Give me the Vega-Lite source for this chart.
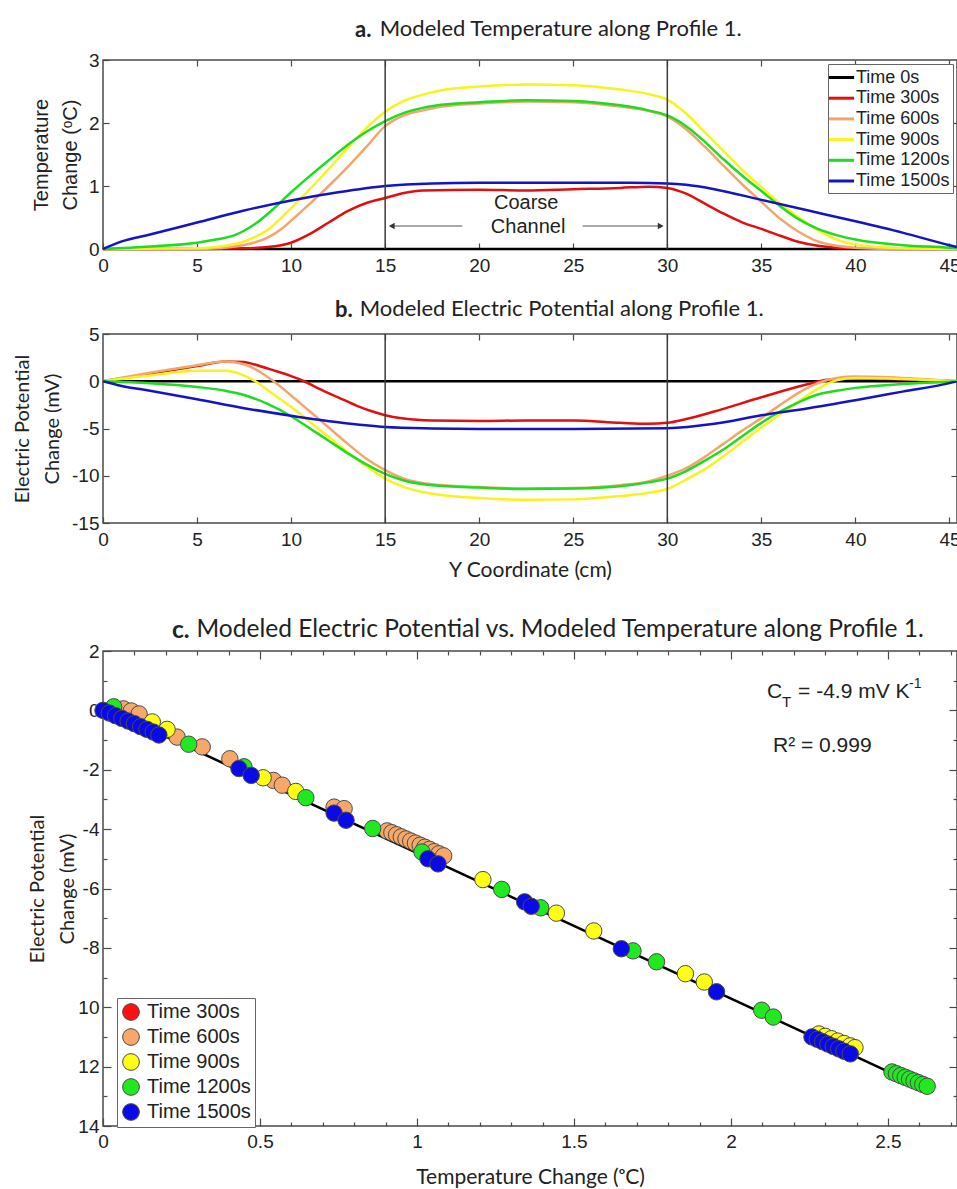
{
  "$schema": "https://vega.github.io/schema/vega-lite/v6.json",
  "padding": {"left": 11, "top": 17, "right": 0, "bottom": 0},
  "background": "white",
  "spacing": 21,
  "resolve": {"scale": {"color": "independent"}, "legend": {"color": "independent"}},
  "config": {
    "view": {"stroke": "#4a4a4a", "strokeWidth": 1.5},
    "axis": {
      "domain": false, "grid": false,
      "tickColor": "#4a4a4a", "tickWidth": 1.2,
      "labelFont": "Liberation Sans", "labelColor": "#222", "labelFlush": false, "labelOverlap": false,
      "titleColor": "#222", "titleFontWeight": "normal"
    },
    "legend": {
      "orient": "none", "title": null, "strokeColor": "#666", "fillColor": "white",
      "labelFont": "Liberation Sans", "labelColor": "#222"
    },
    "title": {
      "anchor": "start", "frame": "group", "font": "Lato", "fontSize": 22, "fontWeight": "bold",
      "color": "#222", "subtitleFont": "Lato", "subtitleFontSize": 22, "subtitleFontWeight": "normal",
      "subtitleColor": "#222", "subtitlePadding": -23
    }
  },
  "datasets": {
    "temperature": [
      {"series": "Time 0s", "y_cm": 0, "dT": 0}, {"series": "Time 0s", "y_cm": 45.4, "dT": 0},
      {"series": "Time 300s", "y_cm": 0, "dT": 0}, {"series": "Time 300s", "y_cm": 5, "dT": 0}, {"series": "Time 300s", "y_cm": 7.5, "dT": 0.01}, {"series": "Time 300s", "y_cm": 8.75, "dT": 0.03}, {"series": "Time 300s", "y_cm": 10, "dT": 0.1}, {"series": "Time 300s", "y_cm": 11, "dT": 0.24}, {"series": "Time 300s", "y_cm": 12, "dT": 0.42}, {"series": "Time 300s", "y_cm": 13, "dT": 0.6}, {"series": "Time 300s", "y_cm": 14, "dT": 0.73}, {"series": "Time 300s", "y_cm": 15, "dT": 0.81}, {"series": "Time 300s", "y_cm": 16, "dT": 0.89}, {"series": "Time 300s", "y_cm": 17, "dT": 0.93}, {"series": "Time 300s", "y_cm": 20, "dT": 0.94}, {"series": "Time 300s", "y_cm": 22.5, "dT": 0.93}, {"series": "Time 300s", "y_cm": 25, "dT": 0.95}, {"series": "Time 300s", "y_cm": 27.5, "dT": 0.97}, {"series": "Time 300s", "y_cm": 29, "dT": 0.99}, {"series": "Time 300s", "y_cm": 30, "dT": 0.97}, {"series": "Time 300s", "y_cm": 31, "dT": 0.88}, {"series": "Time 300s", "y_cm": 32, "dT": 0.72}, {"series": "Time 300s", "y_cm": 33, "dT": 0.56}, {"series": "Time 300s", "y_cm": 34, "dT": 0.42}, {"series": "Time 300s", "y_cm": 35, "dT": 0.32}, {"series": "Time 300s", "y_cm": 36, "dT": 0.21}, {"series": "Time 300s", "y_cm": 37, "dT": 0.11}, {"series": "Time 300s", "y_cm": 38, "dT": 0.05}, {"series": "Time 300s", "y_cm": 39, "dT": 0.02}, {"series": "Time 300s", "y_cm": 40, "dT": 0.01}, {"series": "Time 300s", "y_cm": 42.5, "dT": 0}, {"series": "Time 300s", "y_cm": 45.4, "dT": 0},
      {"series": "Time 600s", "y_cm": 0, "dT": 0}, {"series": "Time 600s", "y_cm": 5, "dT": 0}, {"series": "Time 600s", "y_cm": 6, "dT": 0.01}, {"series": "Time 600s", "y_cm": 7, "dT": 0.04}, {"series": "Time 600s", "y_cm": 8, "dT": 0.1}, {"series": "Time 600s", "y_cm": 8.75, "dT": 0.18}, {"series": "Time 600s", "y_cm": 9.5, "dT": 0.32}, {"series": "Time 600s", "y_cm": 10, "dT": 0.45}, {"series": "Time 600s", "y_cm": 11, "dT": 0.72}, {"series": "Time 600s", "y_cm": 12, "dT": 1.0}, {"series": "Time 600s", "y_cm": 13, "dT": 1.3}, {"series": "Time 600s", "y_cm": 14, "dT": 1.62}, {"series": "Time 600s", "y_cm": 15, "dT": 1.95}, {"series": "Time 600s", "y_cm": 15.5, "dT": 2.05}, {"series": "Time 600s", "y_cm": 16, "dT": 2.12}, {"series": "Time 600s", "y_cm": 17, "dT": 2.2}, {"series": "Time 600s", "y_cm": 18, "dT": 2.26}, {"series": "Time 600s", "y_cm": 20, "dT": 2.31}, {"series": "Time 600s", "y_cm": 22.5, "dT": 2.34}, {"series": "Time 600s", "y_cm": 25, "dT": 2.33}, {"series": "Time 600s", "y_cm": 27.5, "dT": 2.26}, {"series": "Time 600s", "y_cm": 29, "dT": 2.19}, {"series": "Time 600s", "y_cm": 30, "dT": 2.1}, {"series": "Time 600s", "y_cm": 31, "dT": 1.9}, {"series": "Time 600s", "y_cm": 32, "dT": 1.62}, {"series": "Time 600s", "y_cm": 33, "dT": 1.32}, {"series": "Time 600s", "y_cm": 34, "dT": 1.02}, {"series": "Time 600s", "y_cm": 35, "dT": 0.75}, {"series": "Time 600s", "y_cm": 36, "dT": 0.48}, {"series": "Time 600s", "y_cm": 37, "dT": 0.27}, {"series": "Time 600s", "y_cm": 38, "dT": 0.12}, {"series": "Time 600s", "y_cm": 39, "dT": 0.05}, {"series": "Time 600s", "y_cm": 40, "dT": 0.02}, {"series": "Time 600s", "y_cm": 42.5, "dT": 0}, {"series": "Time 600s", "y_cm": 45.4, "dT": 0},
      {"series": "Time 900s", "y_cm": 0, "dT": 0}, {"series": "Time 900s", "y_cm": 5, "dT": 0.01}, {"series": "Time 900s", "y_cm": 6, "dT": 0.03}, {"series": "Time 900s", "y_cm": 7, "dT": 0.08}, {"series": "Time 900s", "y_cm": 7.5, "dT": 0.12}, {"series": "Time 900s", "y_cm": 8, "dT": 0.18}, {"series": "Time 900s", "y_cm": 8.75, "dT": 0.3}, {"series": "Time 900s", "y_cm": 9.5, "dT": 0.5}, {"series": "Time 900s", "y_cm": 10, "dT": 0.65}, {"series": "Time 900s", "y_cm": 11, "dT": 0.95}, {"series": "Time 900s", "y_cm": 12, "dT": 1.27}, {"series": "Time 900s", "y_cm": 13, "dT": 1.6}, {"series": "Time 900s", "y_cm": 14, "dT": 1.92}, {"series": "Time 900s", "y_cm": 15, "dT": 2.18}, {"series": "Time 900s", "y_cm": 16, "dT": 2.35}, {"series": "Time 900s", "y_cm": 17, "dT": 2.45}, {"series": "Time 900s", "y_cm": 18, "dT": 2.52}, {"series": "Time 900s", "y_cm": 20, "dT": 2.58}, {"series": "Time 900s", "y_cm": 22.5, "dT": 2.61}, {"series": "Time 900s", "y_cm": 25, "dT": 2.6}, {"series": "Time 900s", "y_cm": 27.5, "dT": 2.53}, {"series": "Time 900s", "y_cm": 29, "dT": 2.46}, {"series": "Time 900s", "y_cm": 30, "dT": 2.37}, {"series": "Time 900s", "y_cm": 31, "dT": 2.15}, {"series": "Time 900s", "y_cm": 32, "dT": 1.85}, {"series": "Time 900s", "y_cm": 33, "dT": 1.55}, {"series": "Time 900s", "y_cm": 34, "dT": 1.25}, {"series": "Time 900s", "y_cm": 35, "dT": 0.98}, {"series": "Time 900s", "y_cm": 36, "dT": 0.72}, {"series": "Time 900s", "y_cm": 37, "dT": 0.5}, {"series": "Time 900s", "y_cm": 38, "dT": 0.3}, {"series": "Time 900s", "y_cm": 39, "dT": 0.15}, {"series": "Time 900s", "y_cm": 40, "dT": 0.07}, {"series": "Time 900s", "y_cm": 42.5, "dT": 0.01}, {"series": "Time 900s", "y_cm": 45.4, "dT": 0},
      {"series": "Time 1200s", "y_cm": 0, "dT": 0}, {"series": "Time 1200s", "y_cm": 2.5, "dT": 0.04}, {"series": "Time 1200s", "y_cm": 5, "dT": 0.1}, {"series": "Time 1200s", "y_cm": 6, "dT": 0.15}, {"series": "Time 1200s", "y_cm": 7, "dT": 0.22}, {"series": "Time 1200s", "y_cm": 7.5, "dT": 0.29}, {"series": "Time 1200s", "y_cm": 8, "dT": 0.38}, {"series": "Time 1200s", "y_cm": 9, "dT": 0.62}, {"series": "Time 1200s", "y_cm": 10, "dT": 0.9}, {"series": "Time 1200s", "y_cm": 11, "dT": 1.16}, {"series": "Time 1200s", "y_cm": 12, "dT": 1.41}, {"series": "Time 1200s", "y_cm": 13, "dT": 1.65}, {"series": "Time 1200s", "y_cm": 14, "dT": 1.86}, {"series": "Time 1200s", "y_cm": 15, "dT": 2.03}, {"series": "Time 1200s", "y_cm": 16, "dT": 2.16}, {"series": "Time 1200s", "y_cm": 17, "dT": 2.24}, {"series": "Time 1200s", "y_cm": 18, "dT": 2.29}, {"series": "Time 1200s", "y_cm": 20, "dT": 2.33}, {"series": "Time 1200s", "y_cm": 22.5, "dT": 2.36}, {"series": "Time 1200s", "y_cm": 25, "dT": 2.35}, {"series": "Time 1200s", "y_cm": 27.5, "dT": 2.28}, {"series": "Time 1200s", "y_cm": 29, "dT": 2.2}, {"series": "Time 1200s", "y_cm": 30, "dT": 2.12}, {"series": "Time 1200s", "y_cm": 31, "dT": 1.95}, {"series": "Time 1200s", "y_cm": 32, "dT": 1.7}, {"series": "Time 1200s", "y_cm": 33, "dT": 1.42}, {"series": "Time 1200s", "y_cm": 34, "dT": 1.16}, {"series": "Time 1200s", "y_cm": 35, "dT": 0.92}, {"series": "Time 1200s", "y_cm": 36, "dT": 0.68}, {"series": "Time 1200s", "y_cm": 37, "dT": 0.47}, {"series": "Time 1200s", "y_cm": 38, "dT": 0.32}, {"series": "Time 1200s", "y_cm": 39, "dT": 0.22}, {"series": "Time 1200s", "y_cm": 40, "dT": 0.15}, {"series": "Time 1200s", "y_cm": 42.5, "dT": 0.06}, {"series": "Time 1200s", "y_cm": 45, "dT": 0.02}, {"series": "Time 1200s", "y_cm": 45.4, "dT": 0.01},
      {"series": "Time 1500s", "y_cm": 0, "dT": 0}, {"series": "Time 1500s", "y_cm": 1, "dT": 0.12}, {"series": "Time 1500s", "y_cm": 2.5, "dT": 0.23}, {"series": "Time 1500s", "y_cm": 5, "dT": 0.42}, {"series": "Time 1500s", "y_cm": 7.5, "dT": 0.61}, {"series": "Time 1500s", "y_cm": 10, "dT": 0.77}, {"series": "Time 1500s", "y_cm": 12.5, "dT": 0.9}, {"series": "Time 1500s", "y_cm": 15, "dT": 1.0}, {"series": "Time 1500s", "y_cm": 17.5, "dT": 1.04}, {"series": "Time 1500s", "y_cm": 20, "dT": 1.05}, {"series": "Time 1500s", "y_cm": 25, "dT": 1.05}, {"series": "Time 1500s", "y_cm": 28, "dT": 1.05}, {"series": "Time 1500s", "y_cm": 30, "dT": 1.04}, {"series": "Time 1500s", "y_cm": 31, "dT": 1.02}, {"series": "Time 1500s", "y_cm": 32.5, "dT": 0.95}, {"series": "Time 1500s", "y_cm": 35, "dT": 0.78}, {"series": "Time 1500s", "y_cm": 37.5, "dT": 0.61}, {"series": "Time 1500s", "y_cm": 40, "dT": 0.44}, {"series": "Time 1500s", "y_cm": 42.5, "dT": 0.26}, {"series": "Time 1500s", "y_cm": 45, "dT": 0.06}, {"series": "Time 1500s", "y_cm": 45.4, "dT": 0.03}
    ],
    "potential": [
      {"series": "Time 0s", "y_cm": 0, "dV": 0}, {"series": "Time 0s", "y_cm": 45.4, "dV": 0},
      {"series": "Time 300s", "y_cm": 0, "dV": 0}, {"series": "Time 300s", "y_cm": 2.5, "dV": 0.8}, {"series": "Time 300s", "y_cm": 5, "dV": 1.6}, {"series": "Time 300s", "y_cm": 6.5, "dV": 2.1}, {"series": "Time 300s", "y_cm": 7.5, "dV": 2.05}, {"series": "Time 300s", "y_cm": 8, "dV": 1.8}, {"series": "Time 300s", "y_cm": 9, "dV": 1.2}, {"series": "Time 300s", "y_cm": 10, "dV": 0.55}, {"series": "Time 300s", "y_cm": 10.7, "dV": 0}, {"series": "Time 300s", "y_cm": 11.5, "dV": -0.8}, {"series": "Time 300s", "y_cm": 12.5, "dV": -1.7}, {"series": "Time 300s", "y_cm": 13.5, "dV": -2.6}, {"series": "Time 300s", "y_cm": 14.5, "dV": -3.3}, {"series": "Time 300s", "y_cm": 15, "dV": -3.6}, {"series": "Time 300s", "y_cm": 16, "dV": -3.95}, {"series": "Time 300s", "y_cm": 17.5, "dV": -4.15}, {"series": "Time 300s", "y_cm": 20, "dV": -4.2}, {"series": "Time 300s", "y_cm": 22.5, "dV": -4.15}, {"series": "Time 300s", "y_cm": 25, "dV": -4.15}, {"series": "Time 300s", "y_cm": 27.5, "dV": -4.4}, {"series": "Time 300s", "y_cm": 29, "dV": -4.5}, {"series": "Time 300s", "y_cm": 30, "dV": -4.4}, {"series": "Time 300s", "y_cm": 31, "dV": -4.0}, {"series": "Time 300s", "y_cm": 32.5, "dV": -3.2}, {"series": "Time 300s", "y_cm": 35, "dV": -1.7}, {"series": "Time 300s", "y_cm": 37.5, "dV": -0.3}, {"series": "Time 300s", "y_cm": 38.5, "dV": 0.15}, {"series": "Time 300s", "y_cm": 40, "dV": 0.3}, {"series": "Time 300s", "y_cm": 42.5, "dV": 0.2}, {"series": "Time 300s", "y_cm": 45, "dV": 0.05}, {"series": "Time 300s", "y_cm": 45.4, "dV": 0},
      {"series": "Time 600s", "y_cm": 0, "dV": 0}, {"series": "Time 600s", "y_cm": 2.5, "dV": 0.9}, {"series": "Time 600s", "y_cm": 5, "dV": 1.7}, {"series": "Time 600s", "y_cm": 6.5, "dV": 2.1}, {"series": "Time 600s", "y_cm": 7.5, "dV": 1.8}, {"series": "Time 600s", "y_cm": 8.5, "dV": 0.8}, {"series": "Time 600s", "y_cm": 9, "dV": 0.1}, {"series": "Time 600s", "y_cm": 10, "dV": -1.5}, {"series": "Time 600s", "y_cm": 11, "dV": -3.2}, {"series": "Time 600s", "y_cm": 12, "dV": -4.9}, {"series": "Time 600s", "y_cm": 13, "dV": -6.6}, {"series": "Time 600s", "y_cm": 14, "dV": -8.2}, {"series": "Time 600s", "y_cm": 15, "dV": -9.4}, {"series": "Time 600s", "y_cm": 16, "dV": -10.3}, {"series": "Time 600s", "y_cm": 17.5, "dV": -10.9}, {"series": "Time 600s", "y_cm": 20, "dV": -11.2}, {"series": "Time 600s", "y_cm": 22.5, "dV": -11.35}, {"series": "Time 600s", "y_cm": 25, "dV": -11.3}, {"series": "Time 600s", "y_cm": 27.5, "dV": -11.0}, {"series": "Time 600s", "y_cm": 29, "dV": -10.6}, {"series": "Time 600s", "y_cm": 30, "dV": -10.0}, {"series": "Time 600s", "y_cm": 31, "dV": -9.2}, {"series": "Time 600s", "y_cm": 32, "dV": -8.0}, {"series": "Time 600s", "y_cm": 33, "dV": -6.6}, {"series": "Time 600s", "y_cm": 34, "dV": -5.2}, {"series": "Time 600s", "y_cm": 35, "dV": -3.9}, {"series": "Time 600s", "y_cm": 36, "dV": -2.5}, {"series": "Time 600s", "y_cm": 37, "dV": -1.2}, {"series": "Time 600s", "y_cm": 38, "dV": -0.2}, {"series": "Time 600s", "y_cm": 39, "dV": 0.35}, {"series": "Time 600s", "y_cm": 40, "dV": 0.5}, {"series": "Time 600s", "y_cm": 42.5, "dV": 0.35}, {"series": "Time 600s", "y_cm": 45, "dV": 0.05}, {"series": "Time 600s", "y_cm": 45.4, "dV": 0},
      {"series": "Time 900s", "y_cm": 0, "dV": 0}, {"series": "Time 900s", "y_cm": 2.5, "dV": 0.6}, {"series": "Time 900s", "y_cm": 5, "dV": 1.1}, {"series": "Time 900s", "y_cm": 6.5, "dV": 1.1}, {"series": "Time 900s", "y_cm": 7.5, "dV": 0.6}, {"series": "Time 900s", "y_cm": 8.1, "dV": 0}, {"series": "Time 900s", "y_cm": 9, "dV": -1.3}, {"series": "Time 900s", "y_cm": 10, "dV": -2.7}, {"series": "Time 900s", "y_cm": 11, "dV": -4.3}, {"series": "Time 900s", "y_cm": 12, "dV": -5.9}, {"series": "Time 900s", "y_cm": 13, "dV": -7.5}, {"series": "Time 900s", "y_cm": 14, "dV": -9.0}, {"series": "Time 900s", "y_cm": 15, "dV": -10.3}, {"series": "Time 900s", "y_cm": 16, "dV": -11.2}, {"series": "Time 900s", "y_cm": 17.5, "dV": -11.9}, {"series": "Time 900s", "y_cm": 20, "dV": -12.35}, {"series": "Time 900s", "y_cm": 22.5, "dV": -12.55}, {"series": "Time 900s", "y_cm": 25, "dV": -12.5}, {"series": "Time 900s", "y_cm": 27.5, "dV": -12.15}, {"series": "Time 900s", "y_cm": 29, "dV": -11.8}, {"series": "Time 900s", "y_cm": 30, "dV": -11.4}, {"series": "Time 900s", "y_cm": 31, "dV": -10.4}, {"series": "Time 900s", "y_cm": 32, "dV": -9.3}, {"series": "Time 900s", "y_cm": 33, "dV": -7.9}, {"series": "Time 900s", "y_cm": 34, "dV": -6.4}, {"series": "Time 900s", "y_cm": 35, "dV": -4.9}, {"series": "Time 900s", "y_cm": 36, "dV": -3.5}, {"series": "Time 900s", "y_cm": 37, "dV": -2.1}, {"series": "Time 900s", "y_cm": 38, "dV": -0.8}, {"series": "Time 900s", "y_cm": 39, "dV": 0.1}, {"series": "Time 900s", "y_cm": 40, "dV": 0.35}, {"series": "Time 900s", "y_cm": 42.5, "dV": 0.25}, {"series": "Time 900s", "y_cm": 45, "dV": 0.05}, {"series": "Time 900s", "y_cm": 45.4, "dV": 0},
      {"series": "Time 1200s", "y_cm": 0, "dV": 0}, {"series": "Time 1200s", "y_cm": 2.5, "dV": -0.2}, {"series": "Time 1200s", "y_cm": 5, "dV": -0.6}, {"series": "Time 1200s", "y_cm": 6.5, "dV": -1.0}, {"series": "Time 1200s", "y_cm": 7.5, "dV": -1.45}, {"series": "Time 1200s", "y_cm": 8.75, "dV": -2.4}, {"series": "Time 1200s", "y_cm": 10, "dV": -3.7}, {"series": "Time 1200s", "y_cm": 11, "dV": -5.0}, {"series": "Time 1200s", "y_cm": 12, "dV": -6.3}, {"series": "Time 1200s", "y_cm": 13, "dV": -7.6}, {"series": "Time 1200s", "y_cm": 14, "dV": -8.8}, {"series": "Time 1200s", "y_cm": 15, "dV": -9.8}, {"series": "Time 1200s", "y_cm": 16, "dV": -10.5}, {"series": "Time 1200s", "y_cm": 17.5, "dV": -11.0}, {"series": "Time 1200s", "y_cm": 20, "dV": -11.25}, {"series": "Time 1200s", "y_cm": 22.5, "dV": -11.4}, {"series": "Time 1200s", "y_cm": 25, "dV": -11.35}, {"series": "Time 1200s", "y_cm": 27.5, "dV": -11.1}, {"series": "Time 1200s", "y_cm": 29, "dV": -10.7}, {"series": "Time 1200s", "y_cm": 30, "dV": -10.3}, {"series": "Time 1200s", "y_cm": 31, "dV": -9.5}, {"series": "Time 1200s", "y_cm": 32, "dV": -8.4}, {"series": "Time 1200s", "y_cm": 33, "dV": -7.2}, {"series": "Time 1200s", "y_cm": 34, "dV": -5.8}, {"series": "Time 1200s", "y_cm": 35, "dV": -4.4}, {"series": "Time 1200s", "y_cm": 36, "dV": -3.2}, {"series": "Time 1200s", "y_cm": 37, "dV": -2.2}, {"series": "Time 1200s", "y_cm": 38, "dV": -1.4}, {"series": "Time 1200s", "y_cm": 39, "dV": -1.0}, {"series": "Time 1200s", "y_cm": 40, "dV": -0.7}, {"series": "Time 1200s", "y_cm": 42.5, "dV": -0.3}, {"series": "Time 1200s", "y_cm": 45, "dV": -0.05}, {"series": "Time 1200s", "y_cm": 45.4, "dV": 0},
      {"series": "Time 1500s", "y_cm": 0, "dV": 0}, {"series": "Time 1500s", "y_cm": 1, "dV": -0.5}, {"series": "Time 1500s", "y_cm": 2.5, "dV": -1.0}, {"series": "Time 1500s", "y_cm": 5, "dV": -1.9}, {"series": "Time 1500s", "y_cm": 7.5, "dV": -2.85}, {"series": "Time 1500s", "y_cm": 10, "dV": -3.65}, {"series": "Time 1500s", "y_cm": 12.5, "dV": -4.35}, {"series": "Time 1500s", "y_cm": 15, "dV": -4.85}, {"series": "Time 1500s", "y_cm": 17.5, "dV": -5.0}, {"series": "Time 1500s", "y_cm": 20, "dV": -5.05}, {"series": "Time 1500s", "y_cm": 25, "dV": -5.05}, {"series": "Time 1500s", "y_cm": 30, "dV": -4.97}, {"series": "Time 1500s", "y_cm": 32.5, "dV": -4.5}, {"series": "Time 1500s", "y_cm": 35, "dV": -3.6}, {"series": "Time 1500s", "y_cm": 37.5, "dV": -2.85}, {"series": "Time 1500s", "y_cm": 40, "dV": -2.0}, {"series": "Time 1500s", "y_cm": 42.5, "dV": -1.1}, {"series": "Time 1500s", "y_cm": 45, "dV": -0.2}, {"series": "Time 1500s", "y_cm": 45.4, "dV": 0}
    ],
    "channel": [{"y_cm": 15}, {"y_cm": 30}],
    "fit": [{"dT": 0, "dV": 0.1}, {"dT": 2.64, "dV": -12.85}],
    "scatter": [
      {"series": "Time 600s", "dT": 0.065, "dV": 0.05}, {"series": "Time 600s", "dT": 0.09, "dV": -0.02}, {"series": "Time 600s", "dT": 0.115, "dV": -0.12}, {"series": "Time 600s", "dT": 0.236, "dV": -0.9}, {"series": "Time 600s", "dT": 0.316, "dV": -1.23}, {"series": "Time 600s", "dT": 0.404, "dV": -1.63}, {"series": "Time 600s", "dT": 0.543, "dV": -2.36}, {"series": "Time 600s", "dT": 0.571, "dV": -2.52}, {"series": "Time 600s", "dT": 0.736, "dV": -3.26}, {"series": "Time 600s", "dT": 0.768, "dV": -3.31},
      {"series": "Time 600s", "dT": 0.905, "dV": -4.06}, {"series": "Time 600s", "dT": 0.92, "dV": -4.12}, {"series": "Time 600s", "dT": 0.935, "dV": -4.19}, {"series": "Time 600s", "dT": 0.95, "dV": -4.26}, {"series": "Time 600s", "dT": 0.965, "dV": -4.33}, {"series": "Time 600s", "dT": 0.98, "dV": -4.4}, {"series": "Time 600s", "dT": 0.995, "dV": -4.47}, {"series": "Time 600s", "dT": 1.01, "dV": -4.54}, {"series": "Time 600s", "dT": 1.025, "dV": -4.61}, {"series": "Time 600s", "dT": 1.04, "dV": -4.68}, {"series": "Time 600s", "dT": 1.055, "dV": -4.76}, {"series": "Time 600s", "dT": 1.07, "dV": -4.83}, {"series": "Time 600s", "dT": 1.085, "dV": -4.9},
      {"series": "Time 900s", "dT": 0.157, "dV": -0.39}, {"series": "Time 900s", "dT": 0.204, "dV": -0.64}, {"series": "Time 900s", "dT": 0.51, "dV": -2.27}, {"series": "Time 900s", "dT": 0.614, "dV": -2.73}, {"series": "Time 900s", "dT": 1.21, "dV": -5.7}, {"series": "Time 900s", "dT": 1.444, "dV": -6.83}, {"series": "Time 900s", "dT": 1.563, "dV": -7.43}, {"series": "Time 900s", "dT": 1.855, "dV": -8.87}, {"series": "Time 900s", "dT": 1.915, "dV": -9.15},
      {"series": "Time 900s", "dT": 2.28, "dV": -10.9}, {"series": "Time 900s", "dT": 2.3, "dV": -10.98}, {"series": "Time 900s", "dT": 2.32, "dV": -11.06}, {"series": "Time 900s", "dT": 2.34, "dV": -11.14}, {"series": "Time 900s", "dT": 2.36, "dV": -11.22}, {"series": "Time 900s", "dT": 2.38, "dV": -11.3}, {"series": "Time 900s", "dT": 2.395, "dV": -11.36},
      {"series": "Time 1200s", "dT": 0.034, "dV": 0.12}, {"series": "Time 1200s", "dT": 0.273, "dV": -1.14}, {"series": "Time 1200s", "dT": 0.449, "dV": -1.9}, {"series": "Time 1200s", "dT": 0.646, "dV": -2.94}, {"series": "Time 1200s", "dT": 0.859, "dV": -3.98}, {"series": "Time 1200s", "dT": 1.016, "dV": -4.77}, {"series": "Time 1200s", "dT": 1.27, "dV": -6.03}, {"series": "Time 1200s", "dT": 1.394, "dV": -6.65}, {"series": "Time 1200s", "dT": 1.688, "dV": -8.1}, {"series": "Time 1200s", "dT": 1.763, "dV": -8.47}, {"series": "Time 1200s", "dT": 2.098, "dV": -10.1}, {"series": "Time 1200s", "dT": 2.135, "dV": -10.33},
      {"series": "Time 1200s", "dT": 2.513, "dV": -12.18}, {"series": "Time 1200s", "dT": 2.527, "dV": -12.24}, {"series": "Time 1200s", "dT": 2.541, "dV": -12.3}, {"series": "Time 1200s", "dT": 2.555, "dV": -12.36}, {"series": "Time 1200s", "dT": 2.569, "dV": -12.42}, {"series": "Time 1200s", "dT": 2.583, "dV": -12.48}, {"series": "Time 1200s", "dT": 2.597, "dV": -12.54}, {"series": "Time 1200s", "dT": 2.611, "dV": -12.6}, {"series": "Time 1200s", "dT": 2.625, "dV": -12.66},
      {"series": "Time 1500s", "dT": 0.0, "dV": 0.0}, {"series": "Time 1500s", "dT": 0.02, "dV": -0.09}, {"series": "Time 1500s", "dT": 0.04, "dV": -0.18}, {"series": "Time 1500s", "dT": 0.06, "dV": -0.27}, {"series": "Time 1500s", "dT": 0.08, "dV": -0.36}, {"series": "Time 1500s", "dT": 0.1, "dV": -0.45}, {"series": "Time 1500s", "dT": 0.12, "dV": -0.55}, {"series": "Time 1500s", "dT": 0.14, "dV": -0.64}, {"series": "Time 1500s", "dT": 0.16, "dV": -0.73}, {"series": "Time 1500s", "dT": 0.178, "dV": -0.83},
      {"series": "Time 1500s", "dT": 0.433, "dV": -1.96}, {"series": "Time 1500s", "dT": 0.472, "dV": -2.19}, {"series": "Time 1500s", "dT": 0.736, "dV": -3.46}, {"series": "Time 1500s", "dT": 0.774, "dV": -3.7}, {"series": "Time 1500s", "dT": 1.035, "dV": -5.0}, {"series": "Time 1500s", "dT": 1.067, "dV": -5.17}, {"series": "Time 1500s", "dT": 1.343, "dV": -6.45}, {"series": "Time 1500s", "dT": 1.364, "dV": -6.6}, {"series": "Time 1500s", "dT": 1.651, "dV": -8.03}, {"series": "Time 1500s", "dT": 1.954, "dV": -9.48},
      {"series": "Time 1500s", "dT": 2.258, "dV": -11.0}, {"series": "Time 1500s", "dT": 2.275, "dV": -11.08}, {"series": "Time 1500s", "dT": 2.292, "dV": -11.16}, {"series": "Time 1500s", "dT": 2.309, "dV": -11.24}, {"series": "Time 1500s", "dT": 2.326, "dV": -11.32}, {"series": "Time 1500s", "dT": 2.343, "dV": -11.4}, {"series": "Time 1500s", "dT": 2.36, "dV": -11.48}, {"series": "Time 1500s", "dT": 2.38, "dV": -11.57}
    ]
  },
  "vconcat": [
    {
      "width": 854, "height": 189,
      "title": {"text": "a.", "subtitle": "\u200b\u2003\u2009\u2009\u2009Modeled Temperature along Profile 1.", "dx": 252, "offset": 8},
      "resolve": {"axis": {"x": "independent", "y": "independent"}},
      "layer": [
        {
          "data": {"name": "temperature"},
          "transform": [{"filter": "datum.series === 'Time 0s'"}],
          "mark": {"type": "line", "strokeWidth": 2.5},
          "encoding": {
            "x": {"field": "y_cm", "type": "quantitative", "scale": {"domain": [0, 45.4], "nice": false},
                  "axis": {"orient": "top", "values": [5, 10, 15, 20, 25, 30, 35, 40, 45], "tickSize": -6, "labels": false, "title": null}},
            "y": {"field": "dT", "type": "quantitative", "scale": {"domain": [0, 3], "nice": false},
                  "axis": {"orient": "right", "values": [1, 2], "tickSize": -6, "labels": false, "title": null}},
            "color": {"field": "series", "type": "nominal",
                      "scale": {"domain": ["Time 0s", "Time 300s", "Time 600s", "Time 900s", "Time 1200s", "Time 1500s"],
                                "range": ["#000000", "#e01010", "#f2a66c", "#f7f31c", "#1fdc1f", "#1414c4"]}}
          }
        },
        {
          "data": {"name": "temperature"},
          "transform": [{"filter": "datum.series !== 'Time 0s'"}],
          "mark": {"type": "line", "strokeWidth": 2.5, "interpolate": "monotone"},
          "encoding": {
            "x": {"field": "y_cm", "type": "quantitative",
                  "axis": {"orient": "bottom", "values": [0, 5, 10, 15, 20, 25, 30, 35, 40, 45], "tickSize": -6, "labelPadding": 13, "labelFontSize": 19, "title": null}},
            "y": {"field": "dT", "type": "quantitative",
                  "axis": {"orient": "left", "values": [0, 1, 2, 3], "tickSize": -6, "labelPadding": 10, "labelFontSize": 19,
                           "title": ["Temperature", "Change (\u1d52C)"], "titleFont": "Liberation Sans", "titleFontSize": 20, "titleLineHeight": 29, "titlePadding": 8}},
            "color": {"field": "series", "type": "nominal",
                      "legend": {"legendX": 725, "legendY": 4, "padding": 3, "labelFontSize": 18, "labelOffset": 4, "rowPadding": 0.7,
                                 "symbolType": "M-1.4,0H1.4", "symbolSize": 324, "symbolStrokeWidth": 3}}
          }
        },
        {
          "data": {"name": "channel"},
          "mark": {"type": "rule", "color": "#3c3c3c", "strokeWidth": 1.5},
          "encoding": {"x": {"field": "y_cm", "type": "quantitative", "axis": null}}
        },
        {
          "data": {"values": [{}]},
          "mark": {"type": "rule", "color": "#555", "strokeWidth": 1},
          "encoding": {"x": {"datum": 19.1, "type": "quantitative", "axis": null}, "x2": {"datum": 15.3}, "y": {"datum": 0.365, "type": "quantitative", "axis": null}}
        },
        {
          "data": {"values": [{}]},
          "mark": {"type": "rule", "color": "#555", "strokeWidth": 1},
          "encoding": {"x": {"datum": 25.5, "type": "quantitative", "axis": null}, "x2": {"datum": 29.7}, "y": {"datum": 0.365, "type": "quantitative", "axis": null}}
        },
        {
          "data": {"values": [{}]},
          "mark": {"type": "point", "shape": "triangle-left", "filled": true, "color": "#333", "size": 45, "opacity": 1},
          "encoding": {"x": {"datum": 15.35, "type": "quantitative", "axis": null}, "y": {"datum": 0.365, "type": "quantitative", "axis": null}}
        },
        {
          "data": {"values": [{}]},
          "mark": {"type": "point", "shape": "triangle-right", "filled": true, "color": "#333", "size": 45, "opacity": 1},
          "encoding": {"x": {"datum": 29.65, "type": "quantitative", "axis": null}, "y": {"datum": 0.365, "type": "quantitative", "axis": null}}
        },
        {
          "data": {"values": [{}]},
          "mark": {"type": "text", "text": "Coarse", "font": "Liberation Sans", "fontSize": 20, "color": "#222", "baseline": "middle"},
          "encoding": {"x": {"datum": 22.5, "type": "quantitative", "axis": null}, "y": {"datum": 0.73, "type": "quantitative", "axis": null}}
        },
        {
          "data": {"values": [{}]},
          "mark": {"type": "text", "text": "Channel", "font": "Liberation Sans", "fontSize": 20, "color": "#222", "baseline": "middle"},
          "encoding": {"x": {"datum": 22.6, "type": "quantitative", "axis": null}, "y": {"datum": 0.35, "type": "quantitative", "axis": null}}
        }
      ]
    },
    {
      "width": 854, "height": 189,
      "title": {"text": "b.", "subtitle": "\u200b\u2003\u2009\u2009\u2009Modeled Electric Potential along Profile 1.", "dx": 232, "offset": 2},
      "resolve": {"axis": {"x": "independent", "y": "independent"}},
      "layer": [
        {
          "data": {"name": "potential"},
          "transform": [{"filter": "datum.series === 'Time 0s'"}],
          "mark": {"type": "line", "strokeWidth": 2.5},
          "encoding": {
            "x": {"field": "y_cm", "type": "quantitative", "scale": {"domain": [0, 45.4], "nice": false},
                  "axis": {"orient": "top", "values": [5, 10, 15, 20, 25, 30, 35, 40, 45], "tickSize": -6, "labels": false, "title": null}},
            "y": {"field": "dV", "type": "quantitative", "scale": {"domain": [-15, 5], "nice": false},
                  "axis": {"orient": "right", "values": [-10, -5, 0], "tickSize": -6, "labels": false, "title": null}},
            "color": {"field": "series", "type": "nominal",
                      "scale": {"domain": ["Time 0s", "Time 300s", "Time 600s", "Time 900s", "Time 1200s", "Time 1500s"],
                                "range": ["#000000", "#e01010", "#f2a66c", "#f7f31c", "#1fdc1f", "#1414c4"]}, "legend": null}
          }
        },
        {
          "data": {"name": "potential"},
          "transform": [{"filter": "datum.series !== 'Time 0s'"}],
          "mark": {"type": "line", "strokeWidth": 2.5, "interpolate": "monotone"},
          "encoding": {
            "x": {"field": "y_cm", "type": "quantitative",
                  "axis": {"orient": "bottom", "values": [0, 5, 10, 15, 20, 25, 30, 35, 40, 45], "tickSize": -6, "labelPadding": 13, "labelFontSize": 19,
                           "title": "Y Coordinate (cm)", "titleFont": "Lato", "titleFontSize": 21, "titlePadding": 10}},
            "y": {"field": "dV", "type": "quantitative",
                  "axis": {"orient": "left", "values": [-15, -10, -5, 0, 5], "tickSize": -6, "labelPadding": 10, "labelFontSize": 19,
                           "labelExpr": "datum.value < 0 ? '-' + (-datum.value) : '' + datum.value",
                           "title": ["Electric Potential", "Change (mV)"], "titleFont": "Lato", "titleFontSize": 20, "titleLineHeight": 30, "titlePadding": 9}},
            "color": {"field": "series", "type": "nominal", "legend": null}
          }
        },
        {
          "data": {"name": "channel"},
          "mark": {"type": "rule", "color": "#3c3c3c", "strokeWidth": 1.5},
          "encoding": {"x": {"field": "y_cm", "type": "quantitative", "axis": null}}
        }
      ]
    },
    {
      "width": 854, "height": 475,
      "title": {"text": ["", "c."], "lineHeight": 14.5, "fontSize": 24.5, "subtitleFontSize": 24.5, "subtitlePadding": -25.5,
                "subtitle": "\u200b\u2003\u2009\u2009Modeled Electric Potential vs. Modeled Temperature along Profile 1.", "dx": 69, "offset": -1},
      "resolve": {"axis": {"x": "independent", "y": "independent"}},
      "layer": [
        {
          "data": {"name": "fit"},
          "mark": {"type": "line", "color": "#000", "strokeWidth": 2.5},
          "encoding": {
            "x": {"field": "dT", "type": "quantitative", "scale": {"domain": [0, 2.72], "nice": false},
                  "axis": {"orient": "top", "values": [0.1, 0.2, 0.3, 0.4, 0.5, 0.6, 0.7, 0.8, 0.9, 1, 1.1, 1.2, 1.3, 1.4, 1.5, 1.6, 1.7, 1.8, 1.9, 2, 2.1, 2.2, 2.3, 2.4, 2.5, 2.6, 2.7],
                           "tickSize": {"condition": {"test": "round(datum.value * 10) % 5 === 0", "value": -8}, "value": -4}, "labels": false, "title": null}},
            "y": {"field": "dV", "type": "quantitative", "scale": {"domain": [-14, 2], "nice": false},
                  "axis": {"orient": "right", "values": [-13, -12, -11, -10, -9, -8, -7, -6, -5, -4, -3, -2, -1, 0, 1],
                           "tickSize": {"condition": {"test": "datum.value % 2 === 0", "value": -8}, "value": -4}, "labels": false, "title": null}}
          }
        },
        {
          "data": {"name": "scatter"},
          "mark": {"type": "point", "shape": "circle", "filled": true, "size": 270, "opacity": 1, "stroke": "#4a4a4a", "strokeWidth": 1},
          "encoding": {
            "x": {"field": "dT", "type": "quantitative",
                  "axis": {"orient": "bottom", "values": [0, 0.1, 0.2, 0.3, 0.4, 0.5, 0.6, 0.7, 0.8, 0.9, 1, 1.1, 1.2, 1.3, 1.4, 1.5, 1.6, 1.7, 1.8, 1.9, 2, 2.1, 2.2, 2.3, 2.4, 2.5, 2.6, 2.7],
                           "tickSize": {"condition": {"test": "round(datum.value * 10) % 5 === 0", "value": -8}, "value": -4},
                           "labelExpr": "round(datum.value * 10) % 5 === 0 ? '' + round(datum.value * 10) / 10 : ''",
                           "labelPadding": 14, "labelFontSize": 19,
                           "title": "Temperature Change (\u1d52C)", "titleFont": "Lato", "titleFontSize": 21, "titlePadding": 11}},
            "y": {"field": "dV", "type": "quantitative",
                  "axis": {"orient": "left", "values": [-14, -13, -12, -11, -10, -9, -8, -7, -6, -5, -4, -3, -2, -1, 0, 1, 2],
                           "tickSize": {"condition": {"test": "datum.value % 2 === 0", "value": -8}, "value": -4},
                           "labelExpr": "datum.value % 2 !== 0 ? '' : (datum.value <= -10 ? '' + (-datum.value) : (datum.value < 0 ? '-' + (-datum.value) : '' + datum.value))",
                           "labelPadding": 12, "labelFontSize": 19,
                           "title": ["Electric Potential", "Change (mV)"], "titleFont": "Lato", "titleFontSize": 20, "titleLineHeight": 30, "titlePadding": 0}},
            "color": {"field": "series", "type": "nominal",
                      "scale": {"domain": ["Time 300s", "Time 600s", "Time 900s", "Time 1200s", "Time 1500s"],
                                "range": ["#ff1010", "#f7a868", "#ffff14", "#22e822", "#0a0ae6"]},
                      "legend": {"legendX": 14, "legendY": 347, "padding": 4, "labelFontSize": 20, "labelOffset": 6, "rowPadding": 3,
                                 "symbolType": "circle", "symbolSize": 280, "symbolStrokeColor": "#4a4a4a", "symbolStrokeWidth": 1}}
          }
        },
        {
          "data": {"values": [{}]},
          "mark": {"type": "text", "text": "C", "font": "Liberation Sans", "fontSize": 21, "color": "#222", "align": "left", "baseline": "alphabetic"},
          "encoding": {"x": {"datum": 2.115, "type": "quantitative", "axis": null}, "y": {"datum": 0.42, "type": "quantitative", "axis": null}}
        },
        {
          "data": {"values": [{}]},
          "mark": {"type": "text", "text": "T", "font": "Liberation Sans", "fontSize": 15, "color": "#222", "align": "left", "baseline": "alphabetic", "dx": 15, "dy": 9},
          "encoding": {"x": {"datum": 2.115, "type": "quantitative", "axis": null}, "y": {"datum": 0.42, "type": "quantitative", "axis": null}}
        },
        {
          "data": {"values": [{}]},
          "mark": {"type": "text", "text": "= -4.9 mV K", "font": "Liberation Sans", "fontSize": 21, "color": "#222", "align": "left", "baseline": "alphabetic", "dx": 31},
          "encoding": {"x": {"datum": 2.115, "type": "quantitative", "axis": null}, "y": {"datum": 0.42, "type": "quantitative", "axis": null}}
        },
        {
          "data": {"values": [{}]},
          "mark": {"type": "text", "text": "-1", "font": "Liberation Sans", "fontSize": 14, "color": "#222", "align": "left", "baseline": "alphabetic", "dx": 142, "dy": -10},
          "encoding": {"x": {"datum": 2.115, "type": "quantitative", "axis": null}, "y": {"datum": 0.42, "type": "quantitative", "axis": null}}
        },
        {
          "data": {"values": [{}]},
          "mark": {"type": "text", "text": "R\u00b2 = 0.999", "font": "Liberation Sans", "fontSize": 21, "color": "#222", "align": "left", "baseline": "alphabetic"},
          "encoding": {"x": {"datum": 2.134, "type": "quantitative", "axis": null}, "y": {"datum": -1.4, "type": "quantitative", "axis": null}}
        }
      ]
    }
  ]
}
